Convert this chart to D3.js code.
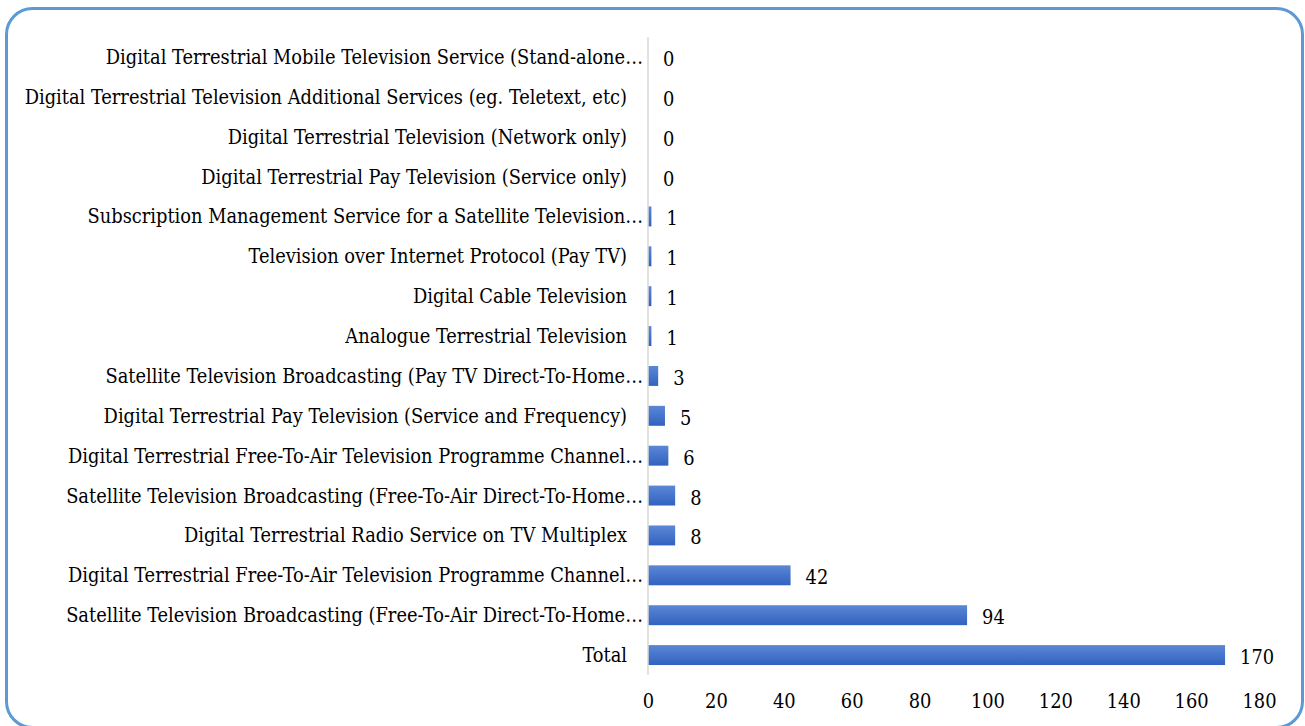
<!DOCTYPE html>
<html>
<head>
<meta charset="utf-8">
<script src="https://cdn.jsdelivr.net/npm/d3@7/dist/d3.min.js"></script>
<style>
  html, body { margin: 0; padding: 0; background: #ffffff; }
  svg { display: block; }
</style>
</head>
<body>
<svg id="chart" width="1305" height="726"></svg>
<script>
// Licence counts by television service category
const categories = [
  "Digital Terrestrial Mobile Television Service (Stand-alone…",
  "Digital Terrestrial Television Additional Services (eg. Teletext, etc)",
  "Digital Terrestrial Television (Network only)",
  "Digital Terrestrial Pay Television (Service only)",
  "Subscription Management Service for a Satellite Television…",
  "Television over Internet Protocol (Pay TV)",
  "Digital Cable Television",
  "Analogue Terrestrial Television",
  "Satellite Television Broadcasting (Pay TV Direct-To-Home…",
  "Digital Terrestrial Pay Television (Service and Frequency)",
  "Digital Terrestrial Free-To-Air Television Programme Channel…",
  "Satellite Television Broadcasting (Free-To-Air Direct-To-Home…",
  "Digital Terrestrial Radio Service on TV Multiplex",
  "Digital Terrestrial Free-To-Air Television Programme Channel…",
  "Satellite Television Broadcasting (Free-To-Air Direct-To-Home…",
  "Total"
];
const values = [0, 0, 0, 0, 1, 1, 1, 1, 3, 5, 6, 8, 8, 42, 94, 170];
const xTicks = [0, 20, 40, 60, 80, 100, 120, 140, 160, 180];

const svg = d3.select("#chart");
const FONT = "'DejaVu Serif Condensed', 'DejaVu Serif', serif";

// Pick a font size so the widest full label spans its column
const probe = svg.append("text")
  .attr("font-family", FONT).attr("font-size", 20)
  .text(categories[1]);
const probeW = probe.node().getComputedTextLength();
probe.remove();
const fontSize = 20 * 603 / probeW;

// Outer rounded frame
svg.append("rect")
  .attr("x", 6.5).attr("y", 8.5)
  .attr("width", 1296).attr("height", 719)
  .attr("rx", 26).attr("ry", 26)
  .attr("fill", "#ffffff")
  .attr("stroke", "#5b9bd5")
  .attr("stroke-width", 3);

const defs = svg.append("defs");
const grad = defs.append("linearGradient")
  .attr("id", "barFill").attr("x1", 0).attr("y1", 0).attr("x2", 0).attr("y2", 1);
grad.append("stop").attr("offset", "0%").attr("stop-color", "#5b87d6");
grad.append("stop").attr("offset", "100%").attr("stop-color", "#3262c0");

const x = d3.scaleLinear().domain([0, 180]).range([648, 1259]);
const y = d3.scaleBand()
  .domain(d3.range(categories.length))
  .range([37, 675])
  .paddingInner(0.5)
  .paddingOuter(0.25);

// Bars
svg.append("g").selectAll("rect")
  .data(values)
  .join("rect")
  .attr("x", x(0))
  .attr("y", (d, i) => y(i))
  .attr("width", d => x(d) - x(0))
  .attr("height", y.bandwidth())
  .attr("fill", "url(#barFill)");

// Category axis line
svg.append("line")
  .attr("x1", x(0)).attr("x2", x(0))
  .attr("y1", 37).attr("y2", 675)
  .attr("stroke", "#d9d9d9").attr("stroke-width", 1.5);

// Category labels
svg.append("g").selectAll("text")
  .data(categories)
  .join("text")
  .attr("x", d => d.endsWith("…") ? 643 : 627)
  .attr("y", (d, i) => y(i) + y.bandwidth() / 2)
  .attr("dy", "0.35em")
  .attr("text-anchor", "end")
  .attr("font-family", FONT)
  .attr("font-size", fontSize)
  .attr("fill", "#000000")
  .text(d => d);

// Value labels
svg.append("g").selectAll("text")
  .data(values)
  .join("text")
  .attr("x", d => x(d) + 15)
  .attr("y", (d, i) => y(i) + y.bandwidth() / 2 + 2)
  .attr("dy", "0.35em")
  .attr("font-family", FONT)
  .attr("font-size", fontSize)
  .attr("fill", "#000000")
  .text(d => d);

// Value axis
const xAxis = d3.axisBottom(x).tickValues(xTicks).tickSize(0).tickPadding(0);
const gx = svg.append("g")
  .attr("transform", "translate(0,701)")
  .call(xAxis);
gx.select(".domain").remove();
gx.selectAll("text")
  .attr("font-family", FONT)
  .attr("font-size", fontSize)
  .attr("fill", "#000000")
  .attr("dy", "0.35em");
</script>
</body>
</html>
